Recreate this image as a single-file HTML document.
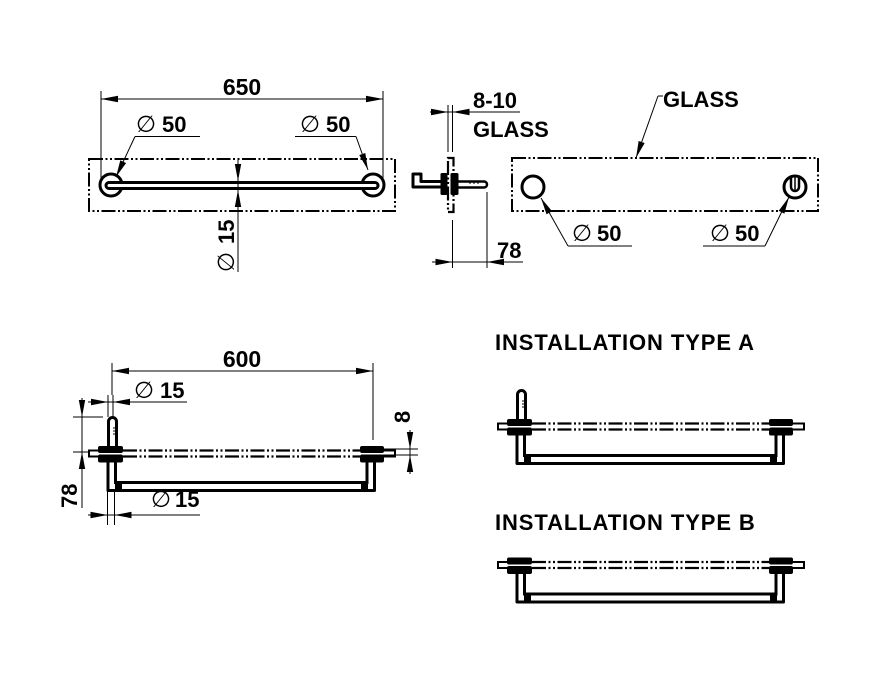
<!DOCTYPE html>
<html><head><meta charset="utf-8"><style>
html,body{margin:0;padding:0;background:#fff;}
svg{display:block;}
.t{font-family:"Liberation Sans",Arial,sans-serif;font-weight:bold;font-size:22px;fill:#000;}
.d{font-family:"DejaVu Sans",sans-serif;font-weight:normal;font-size:23px;fill:#000;}
.l{stroke:#000;stroke-width:1;fill:none;}
.a{stroke:#000;stroke-width:1;fill:none;marker-end:url(#ar);}
.dash{stroke:#000;stroke-width:2;fill:none;stroke-dasharray:14 2.5 2 2.5 2 2.5;}
</style></head><body>
<svg width="872" height="682" viewBox="0 0 872 682" xmlns="http://www.w3.org/2000/svg">
<defs>
<marker id="ar" markerUnits="userSpaceOnUse" markerWidth="17" markerHeight="7" viewBox="0 0 17 7" refX="17" refY="3.5" orient="auto"><path d="M0,0.3 L17,3.5 L0,6.7 Z" fill="#000"/></marker>
<g id="fit">
  <path d="M100,450.5 H89 V456.5 H100" stroke="#000" stroke-width="2" fill="none"/>
  <path d="M383,450.5 H395 V456.5 H383" stroke="#000" stroke-width="2" fill="none"/>
  <path d="M123,450.5 H360 M123,456.5 H360" class="dash" style="stroke-width:2.2"/>
  <rect x="98" y="446" width="25" height="7" rx="2" fill="#000"/>
  <rect x="98" y="454.5" width="25" height="8" rx="2" fill="#000"/>
  <rect x="360" y="446" width="24" height="7" rx="2" fill="#000"/>
  <rect x="360" y="454.5" width="24" height="8" rx="2" fill="#000"/>
  <path d="M108,462 V490.5 H374.5 V462" stroke="#000" stroke-width="3" fill="none" stroke-linejoin="round"/>
  <path d="M115.5,462 V482.5 H367 V462" stroke="#000" stroke-width="3" fill="none"/>
  <rect x="115" y="482" width="7" height="9" fill="#000"/>
  <rect x="361" y="482" width="7" height="9" fill="#000"/>
</g>
<g id="pin">
  <path d="M108.5,446 V421.5 A4,4 0 0 1 116.5,421.5 V446" stroke="#000" stroke-width="3" fill="#fff"/>
  <path d="M113,428 H116 M113,431 H116 M113,434 H116" stroke="#000" stroke-width="1"/>
</g>
</defs>

<!-- ===== TOP LEFT PLAN VIEW ===== -->
<rect x="89" y="159" width="306" height="52" class="dash"/>
<path d="M101,91 V185 M383,91 V185" class="l"/>
<line x1="101" y1="99" x2="383" y2="99" class="l"/>
<line x1="140" y1="99" x2="101" y2="99" class="a"/>
<line x1="340" y1="99" x2="383" y2="99" class="a"/>
<text x="242" y="95" class="t" text-anchor="middle" style="font-size:23px">650</text>

<circle cx="111" cy="185" r="11" stroke="#000" stroke-width="3" fill="#fff"/>
<circle cx="373" cy="185" r="11" stroke="#000" stroke-width="3" fill="#fff"/>
<rect x="106" y="182.5" width="272" height="6" rx="3" stroke="#000" stroke-width="3" fill="#fff"/>

<path d="M135,136.5 H200" class="l"/>
<line x1="135" y1="136.5" x2="116" y2="177" class="a"/>
<text x="136" y="132" class="d">∅</text>
<text x="162" y="132" class="t">50</text>
<path d="M295,136.5 H356" class="l"/>
<line x1="356" y1="136.5" x2="368" y2="170" class="a"/>
<text x="300" y="132" class="d">∅</text>
<text x="326" y="132" class="t">50</text>

<line x1="238" y1="165" x2="238" y2="272" class="l"/>
<line x1="238" y1="160" x2="238" y2="181" class="a"/>
<line x1="238" y1="210" x2="238" y2="190" class="a"/>
<text transform="translate(234,244) rotate(-90)" class="t">15</text>
<text transform="translate(234,272) rotate(-90)" class="d">∅</text>

<!-- ===== SIDE VIEW ===== -->
<path d="M448,105 V152 M452.5,105 V152" class="l"/>
<line x1="430" y1="112" x2="520" y2="112" class="l"/>
<line x1="430" y1="112" x2="448" y2="112" class="a"/>
<line x1="472" y1="112" x2="452.5" y2="112" class="a"/>
<text x="473" y="108" class="t">8-10</text>
<text x="473" y="137" class="t">GLASS</text>

<rect x="448" y="158" width="5.5" height="54" class="dash" style="stroke-width:2.2"/>
<path d="M413,174 H421 V181.5 H442 V187 H413 Z" stroke="#000" stroke-width="3" fill="#fff" stroke-linejoin="round"/>
<path d="M458,181.5 H484 A3,3 0 0 1 484,187.5 H458" stroke="#000" stroke-width="2.5" fill="#fff"/>
<path d="M470,184 V182 M474,184 V182 M478,184 V182" stroke="#000" stroke-width="1"/>
<rect x="440.5" y="173" width="7" height="22" rx="1.5" fill="#000"/>
<rect x="450.5" y="173" width="8" height="22" rx="1.5" fill="#000"/>

<path d="M452.5,220 V268 M487,192 V268" class="l"/>
<line x1="435" y1="262" x2="523" y2="262" class="l"/>
<line x1="432" y1="262" x2="452.5" y2="262" class="a"/>
<line x1="507" y1="262" x2="487" y2="262" class="a"/>
<text x="497" y="258" class="t">78</text>

<!-- ===== GLASS FRONT VIEW ===== -->
<rect x="512" y="158" width="306" height="53" class="dash"/>
<circle cx="533" cy="187" r="11" stroke="#000" stroke-width="3" fill="#fff"/>
<circle cx="795" cy="187" r="11" stroke="#000" stroke-width="3" fill="#fff"/>
<path d="M791,177 V187 A4,4 0 0 0 799,187 V177" stroke="#000" stroke-width="2.5" fill="none"/>
<line x1="795" y1="177" x2="795" y2="190" stroke="#000" stroke-width="1.5"/>

<text x="663" y="107" class="t">GLASS</text>
<path d="M658,96 H663" class="l"/>
<line x1="658" y1="96" x2="636" y2="158" class="a"/>

<path d="M568,246 H632" class="l"/>
<line x1="568" y1="246" x2="541" y2="198" class="a"/>
<text x="572" y="241" class="d">∅</text>
<text x="597" y="241" class="t">50</text>
<path d="M703,246 H765" class="l"/>
<line x1="765" y1="246" x2="789" y2="197" class="a"/>
<text x="710" y="241" class="d">∅</text>
<text x="735" y="241" class="t">50</text>

<!-- ===== ELEVATION ===== -->
<use href="#fit"/>
<use href="#pin"/>
<path d="M112,363 V395 M373,363 V440" class="l"/>
<line x1="112" y1="371" x2="373" y2="371" class="l"/>
<line x1="150" y1="371" x2="112" y2="371" class="a"/>
<line x1="335" y1="371" x2="373" y2="371" class="a"/>
<text x="242" y="367" class="t" text-anchor="middle" style="font-size:23px">600</text>

<path d="M108,395 V417 M113,395 V417" class="l"/>
<line x1="90" y1="402" x2="187" y2="402" class="l"/>
<line x1="88" y1="402" x2="108" y2="402" class="a"/>
<line x1="133" y1="402" x2="113" y2="402" class="a"/>
<text x="134" y="398" class="d">∅</text>
<text x="160" y="398" class="t">15</text>

<path d="M73,417 H103 M73,452 H90" class="l"/>
<line x1="82" y1="402" x2="82" y2="508" class="l"/>
<line x1="82" y1="398" x2="82" y2="417" class="a"/>
<line x1="82" y1="472" x2="82" y2="452" class="a"/>
<text transform="translate(77,508) rotate(-90)" class="t">78</text>

<path d="M383,449 H418 M383,455 H418" class="l"/>
<line x1="410" y1="430" x2="410" y2="472" class="l"/>
<line x1="410" y1="430" x2="410" y2="449" class="a"/>
<line x1="410" y1="474" x2="410" y2="455" class="a"/>
<text transform="translate(410,423) rotate(-90)" class="t">8</text>

<path d="M107.5,490 V525 M114.5,490 V525" class="l"/>
<line x1="90" y1="515" x2="200" y2="515" class="l"/>
<line x1="88" y1="515" x2="107.5" y2="515" class="a"/>
<line x1="134" y1="515" x2="114.5" y2="515" class="a"/>
<text x="151" y="507" class="d">∅</text>
<text x="175" y="507" class="t">15</text>

<!-- ===== INSTALLATION TYPE A ===== -->
<text x="495" y="350" class="t" style="letter-spacing:0.9px">INSTALLATION TYPE A</text>
<g transform="translate(409,-27)"><use href="#fit"/><use href="#pin"/></g>

<!-- ===== INSTALLATION TYPE B ===== -->
<text x="495" y="530" class="t" style="letter-spacing:0.9px">INSTALLATION TYPE B</text>
<g transform="translate(409,111.5)"><use href="#fit"/></g>
</svg>
</body></html>
